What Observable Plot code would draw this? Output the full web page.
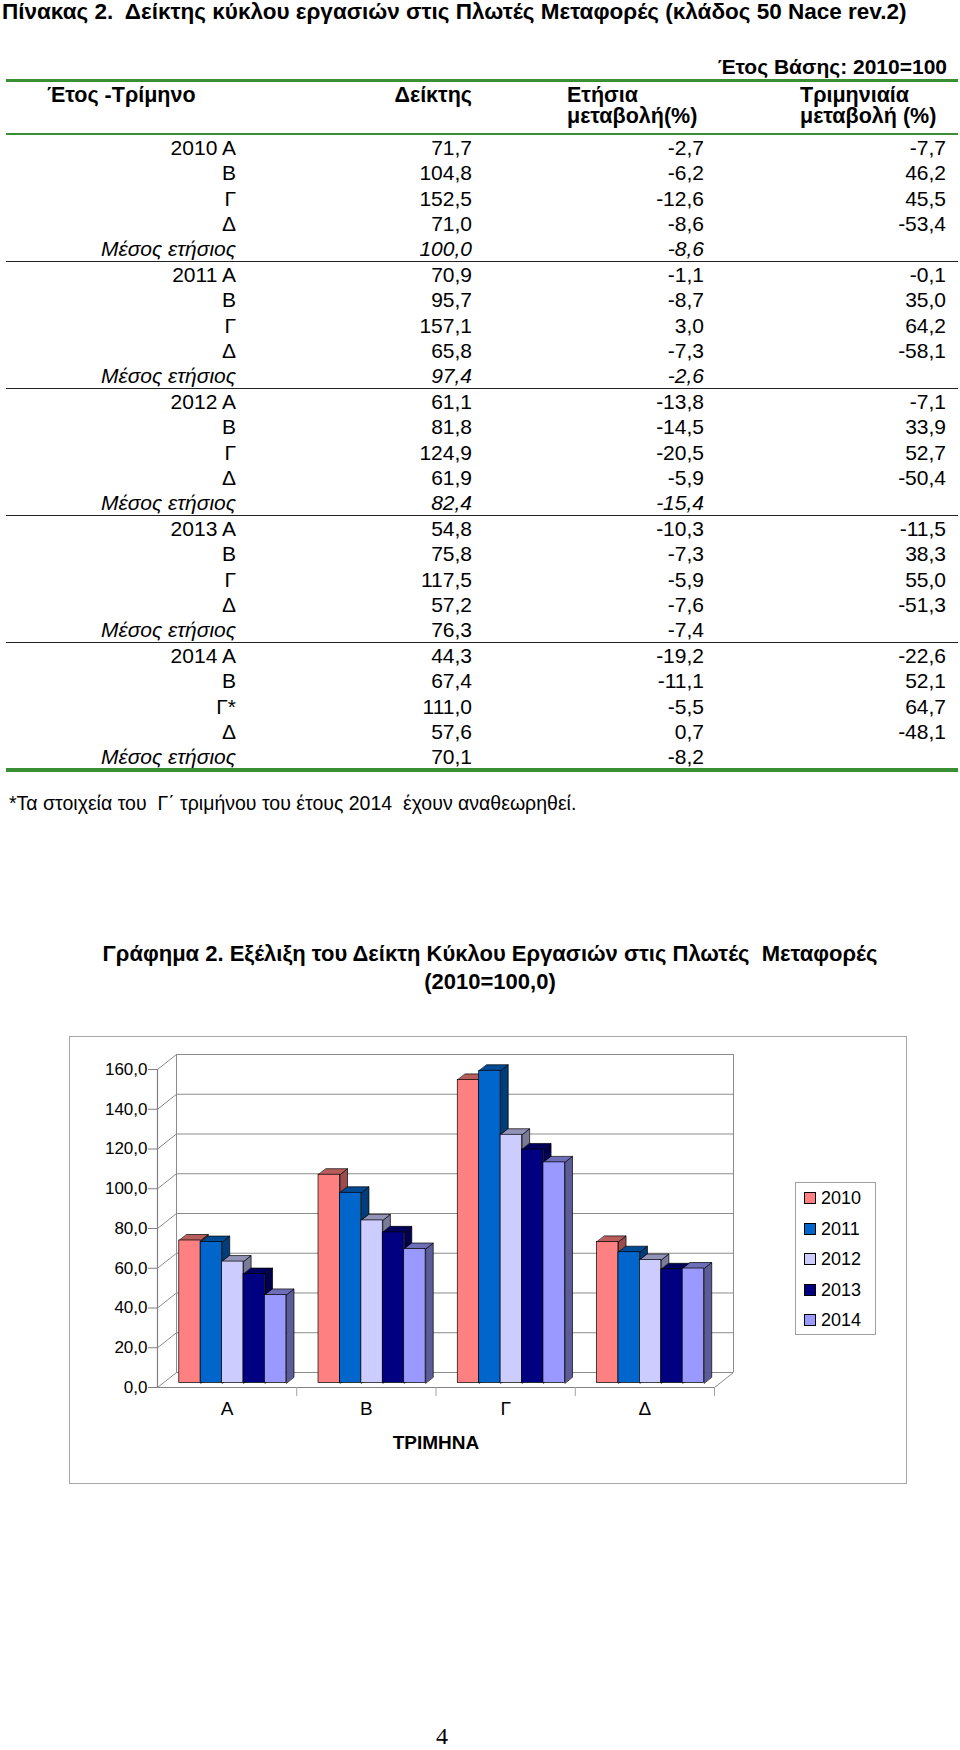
<!DOCTYPE html>
<html><head><meta charset="utf-8">
<script src="https://cdn.jsdelivr.net/npm/d3@7"></script>
<script src="https://cdn.jsdelivr.net/npm/@observablehq/plot@0.6"></script>
<style>
html,body{margin:0;padding:0;background:#fff;}
body{width:960px;height:1750px;position:relative;font-family:"Liberation Sans",Arial,sans-serif;color:#000;overflow:hidden;}
.t{position:absolute;white-space:pre;line-height:1;}
.hl{position:absolute;}
</style></head><body>
<script>
// ---------------- DATA ----------------
const quarters = ["Α", "Β", "Γ", "Δ"];
const years = ["2010", "2011", "2012", "2013", "2014"];
const index2010 = [71.7, 104.8, 152.5, 71.0];
const index2011 = [70.9, 95.7, 157.1, 65.8];
const index2012 = [61.1, 81.8, 124.9, 61.9];
const index2013 = [54.8, 75.8, 117.5, 57.2];
const index2014 = [44.3, 67.4, 111.0, 57.6];
const yearAverages = [100.0, 97.4, 82.4, 76.3, 70.1];
const annual2010 = [-2.7, -6.2, -12.6, -8.6, -8.6];
const annual2011 = [-1.1, -8.7, 3.0, -7.3, -2.6];
const annual2012 = [-13.8, -14.5, -20.5, -5.9, -15.4];
const annual2013 = [-10.3, -7.3, -5.9, -7.6, -7.4];
const annual2014 = [-19.2, -11.1, -5.5, 0.7, -8.2];
const quarterly2010 = [-7.7, 46.2, 45.5, -53.4];
const quarterly2011 = [-0.1, 35.0, 64.2, -58.1];
const quarterly2012 = [-7.1, 33.9, 52.7, -50.4];
const quarterly2013 = [-11.5, 38.3, 55.0, -51.3];
const quarterly2014 = [-22.6, 52.1, 64.7, -48.1];
const quarterRowLabels = ["Α", "Β", "Γ", "Δ"];
const revisedQuarter = "Γ*";
const averageLabel = "Μέσος ετήσιος";
const italicAverageYears = ["2010", "2011", "2012"];
const yearColors = ["#FF8080", "#0066CC", "#CCCCFF", "#000080", "#9999FF"];
const yTicks = [0, 20, 40, 60, 80, 100, 120, 140, 160];

const tableTitle = "Πίνακας 2.  Δείκτης κύκλου εργασιών στις Πλωτές Μεταφορές (κλάδος 50 Nace rev.2)";
const baseYearNote = "Έτος Βάσης: 2010=100";
const headers = ["Έτος -Τρίμηνο", "Δείκτης", "Ετήσια", "μεταβολή(%)", "Τριμηνιαία", "μεταβολή (%)"];
const footnote = "*Τα στοιχεία του  Γ΄ τριμήνου του έτους 2014  έχουν αναθεωρηθεί.";
const chartTitle1 = "Γράφημα 2. Εξέλιξη του Δείκτη Κύκλου Εργασιών στις Πλωτές  Μεταφορές";
const chartTitle2 = "(2010=100,0)";
const xAxisTitle = "ΤΡΙΜΗΝΑ";
const pageNumber = "4";

const indexSeries = [index2010, index2011, index2012, index2013, index2014];
const annualSeries = [annual2010, annual2011, annual2012, annual2013, annual2014];
const quarterlySeries = [quarterly2010, quarterly2011, quarterly2012, quarterly2013, quarterly2014];

// ---------------- helpers ----------------
const fmt = v => v.toFixed(1).replace(".", ",");
const body = document.body;
function txt(s, x, yc, o = {}) {
  const fs = o.size || 21;
  const d = document.createElement("div");
  d.className = "t";
  d.textContent = s;
  d.style.fontSize = fs + "px";
  d.style.left = x + "px";
  d.style.top = (yc - 0.49 * fs) + "px";
  if (o.bold) d.style.fontWeight = "bold";
  if (o.italic) d.style.fontStyle = "italic";
  if (o.family) d.style.fontFamily = o.family;
  const a = o.align || "left";
  d.style.transform = a === "right" ? "translateX(-100%)" : a === "center" ? "translateX(-50%)" : "none";
  body.appendChild(d);
  return d;
}
function hline(y, x1, x2, w, color) {
  const d = document.createElement("div");
  d.className = "hl";
  d.style.left = x1 + "px"; d.style.width = (x2 - x1) + "px";
  d.style.top = (y - w / 2) + "px"; d.style.height = w + "px";
  d.style.background = color;
  body.appendChild(d);
}

// ---------------- table ----------------
txt(tableTitle, 2, 12, {size: 22.5, bold: true});
txt(baseYearNote, 947, 66, {bold: true, size: 21, align: "right"});
const green = "#3a8f35";
hline(80, 6, 958, 3, green);
txt(headers[0], 47, 96, {bold: true, size: 21.5});
txt(headers[1], 472, 96, {align: "right", bold: true, size: 21.5});
txt(headers[2], 567, 96, {bold: true, size: 21.5});
txt(headers[3], 567, 117, {bold: true, size: 21.5});
txt(headers[4], 800, 96, {bold: true, size: 21.5});
txt(headers[5], 800, 117, {bold: true, size: 21.5});
hline(134, 6, 958, 2.5, green);

const colLabel = 236, colIdx = 472, colAnn = 704, colQ = 946;
const rowY = i => 147 + i * 25.4;
let r = 0;
years.forEach((yr, k) => {
  quarterRowLabels.forEach((q, g) => {
    let lab = q;
    if (yr === "2014" && g === 2) lab = revisedQuarter;
    if (g === 0) lab = yr + " " + q;
    const y = rowY(r);
    txt(lab, colLabel, y, {align: "right"});
    txt(fmt(indexSeries[k][g]), colIdx, y, {align: "right"});
    txt(fmt(annualSeries[k][g]), colAnn, y, {align: "right"});
    txt(fmt(quarterlySeries[k][g]), colQ, y, {align: "right"});
    r++;
  });
  const y = rowY(r);
  const it = italicAverageYears.includes(yr);
  txt(averageLabel, colLabel, y, {align: "right", italic: true});
  txt(fmt(yearAverages[k]), colIdx, y, {align: "right", italic: it});
  txt(fmt(annualSeries[k][4]), colAnn, y, {align: "right", italic: it});
  if (k < years.length - 1) hline(y + 12.7, 6, 958, 1.5, "#222");
  r++;
});
hline(rowY(24) + 13.5, 6, 958, 4, green);
txt(footnote, 9, 804, {size: 19.5});

// ---------------- chart ----------------
txt(chartTitle1, 490, 954, {size: 22, bold: true, align: "center"});
txt(chartTitle2, 490, 982, {size: 22, bold: true, align: "center"});

const FL = 69, FT = 1036, FR = 907, FB = 1484;
const frame = document.createElement("div");
frame.style.cssText = `position:absolute;left:${FL}px;top:${FT}px;width:${FR - FL}px;height:${FB - FT}px;border:1.5px solid #a8a8a8;box-sizing:border-box;`;
body.appendChild(frame);

const nCat = quarters.length, band = 6.5, gapHalf = 0.75;
const DX = 0.887, DY = 7.55;           // floor depth in data units
const FX = 0.3 * DX, FY = 0.3 * DY;     // bar front plane
const BX = 0.4 * DX, BY = 0.4 * DY;     // bar depth
const bars = [];
years.forEach((yr, k) => quarters.forEach((q, g) => {
  const v = indexSeries[k][g];
  const x1 = g * band + gapHalf + k + FX, x2 = x1 + 1;
  bars.push({yr, k, q, g, v, x1, x2, y0: FY, yt: v + FY});
}));
const sidePts = [], topPts = [];
bars.forEach((b, i) => {
  [[b.x2, b.y0], [b.x2, b.yt], [b.x2 + BX, b.yt + BY], [b.x2 + BX, b.y0 + BY]]
    .forEach(([x, y]) => sidePts.push({id: i, k: b.k, x, y}));
  [[b.x1, b.yt], [b.x2, b.yt], [b.x2 + BX, b.yt + BY], [b.x1 + BX, b.yt + BY]]
    .forEach(([x, y]) => topPts.push({id: i, k: b.k, x, y}));
});
const shade = (c, f) => { const o = d3.rgb(c); return d3.rgb(o.r * f, o.g * f, o.b * f).formatHex(); };
const xMax = nCat * band;
const grid = "#8c8c8c";
const marks = [
  Plot.ruleY(yTicks, {y: d => d + DY, x1: DX, x2: xMax + DX, stroke: grid, strokeWidth: 1}),
  Plot.ruleX([DX, xMax + DX], {x: d => d, y1: DY, y2: 160 + DY, stroke: grid, strokeWidth: 1}),
  Plot.link(yTicks, {x1: 0, y1: d => d, x2: DX, y2: d => d + DY, stroke: grid, strokeWidth: 1}),
  Plot.link([0], {x1: xMax, y1: 0, x2: xMax + DX, y2: DY, stroke: grid, strokeWidth: 1}),
  Plot.ruleY([0], {x1: 0, x2: xMax, stroke: "#808080", strokeWidth: 1.2}),
  Plot.ruleX([0], {y1: 0, y2: 160, stroke: "#808080", strokeWidth: 1.2}),
  Plot.ruleX(d3.range(1, nCat + 1).map(i => i * band), {y1: 0, y2: -4.5, stroke: "#a0a0a0"}),
  Plot.axisY(yTicks, {anchor: "left", tickSize: 9, tickPadding: 1, stroke: "#808080", fill: "#000",
    tickFormat: d => fmt(d), fontSize: 17, label: null}),
  Plot.text(quarters, {x: (d, i) => i * band + band / 2, y: 0, dy: 21, text: d => d, fontSize: 19, fill: "#000"}),
  Plot.text([xAxisTitle], {x: xMax / 2, y: 0, dy: 55, text: d => d, fontSize: 19, fontWeight: "bold", fill: "#000"})
];
years.forEach((yr, k) => {
  marks.push(Plot.line(sidePts.filter(d => d.k === k), {x: "x", y: "y", z: "id", curve: "linear-closed",
    fill: shade(yearColors[k], 0.6), stroke: "#000", strokeWidth: 0.7}));
});
years.forEach((yr, k) => {
  marks.push(Plot.line(topPts.filter(d => d.k === k), {x: "x", y: "y", z: "id", curve: "linear-closed",
    fill: shade(yearColors[k], 0.72), stroke: "#000", strokeWidth: 0.7}));
});
marks.push(Plot.rect(bars, {x1: "x1", x2: "x2", y1: "y0", y2: "yt", fill: d => yearColors[d.k], stroke: "#000", strokeWidth: 0.7}));

const chart = Plot.plot({
  width: FR - FL, height: FB - FT,
  marginLeft: 157 - FL, marginRight: FR - 714, marginTop: 1069 - FT, marginBottom: FB - 1387,
  x: {type: "linear", domain: [0, xMax], axis: null},
  y: {type: "linear", domain: [0, 160], axis: null},
  style: {background: "transparent", fontFamily: "'Liberation Sans', Arial, sans-serif", overflow: "visible"},
  marks
});
chart.style.position = "absolute";
chart.style.left = FL + "px";
chart.style.top = FT + "px";
body.appendChild(chart);

// legend
const LX = 795, LY = 1182, LW = 81, LH = 153;
const lg = document.createElement("div");
lg.style.cssText = `position:absolute;left:${LX}px;top:${LY}px;width:${LW}px;height:${LH}px;border:1px solid #a0a0a0;box-sizing:border-box;background:#fff;`;
body.appendChild(lg);
years.forEach((yr, k) => {
  const yc = 1198 + k * 30.5;
  const sw = document.createElement("div");
  sw.style.cssText = `position:absolute;left:804px;top:${yc - 6}px;width:12px;height:12px;background:${yearColors[k]};border:1px solid #000;box-sizing:border-box;`;
  body.appendChild(sw);
  txt(yr, 821, yc, {size: 18});
});

txt(pageNumber, 442, 1736, {size: 24, family: "'Liberation Serif', 'Times New Roman', serif", align: "center"});
</script>
</body></html>
